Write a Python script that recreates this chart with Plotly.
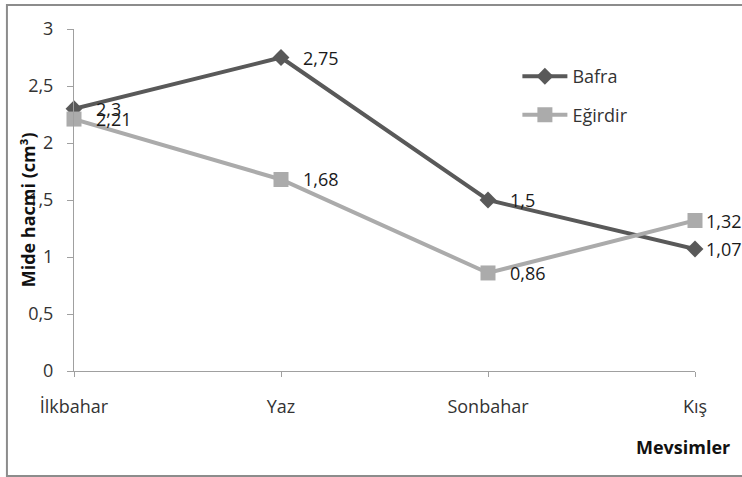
import plotly.graph_objects as go

# Seasons and stomach volume (cm³) per site
seasons = ["İlkbahar", "Yaz", "Sonbahar", "Kış"]
bafra = [2.3, 2.75, 1.5, 1.07]
egirdir = [2.21, 1.68, 0.86, 1.32]
y_ticks = [0, 0.5, 1, 1.5, 2, 2.5, 3]
y_tick_text = ["0", "0,5", "1", "1,5", "2", "2,5", "3"]

FONT = "'Open Sans', Lato, sans-serif"
DARK = "#595959"
LIGHT = "#ababab"


def fmt(v):
    return f"{v:g}".replace(".", ",")


fig = go.Figure()

fig.add_trace(go.Scatter(
    x=seasons, y=bafra, name="Bafra", mode="lines+markers",
    line=dict(color=DARK, width=4),
    marker=dict(symbol="diamond", size=13, color=DARK),
    legendgroup="a", cliponaxis=False,
))
fig.add_trace(go.Scatter(
    x=seasons, y=egirdir, name="Eğirdir", mode="lines+markers",
    line=dict(color=LIGHT, width=4),
    marker=dict(symbol="square", size=15, color=LIGHT),
    legendgroup="b", cliponaxis=False,
))

# value labels to the right of each point (the last column sits closer)
for series in (bafra, egirdir):
    for i, (cat, v) in enumerate(zip(seasons, series)):
        fig.add_annotation(
            x=cat, y=v, text=fmt(v), showarrow=False,
            xanchor="left", yanchor="middle",
            xshift=9 if i == len(seasons) - 1 else 20,
            font=dict(family=FONT, size=18, color="#1a1a1a"),
        )

# chart outer frame
fig.add_shape(type="rect", xref="paper", yref="paper",
              x0=-0.108, x1=1.2, y0=-0.307, y1=1.07,
              line=dict(color="#8c8c8c", width=2), layer="below")

fig.add_annotation(text="<b>Mide hacmi (cm³)</b>", textangle=-90,
                   xref="paper", yref="paper", x=-0.074, y=0.47,
                   xanchor="center", yanchor="middle",
                   showarrow=False, font=dict(family=FONT, size=18, color="#111"))
fig.add_annotation(text="<b>Mevsimler</b>", xref="paper", yref="paper",
                   x=0.981, y=-0.222, xanchor="center", yanchor="middle",
                   showarrow=False, font=dict(family=FONT, size=18, color="#111"))

fig.update_layout(
    width=742, height=477,
    margin=dict(l=74, r=47, t=29, b=106),
    paper_bgcolor="white", plot_bgcolor="white",
    font=dict(family=FONT, size=18, color="#333"),
    legend=dict(x=0.714, y=0.915, xanchor="left", yanchor="top",
                tracegroupgap=12, itemwidth=45, bgcolor="rgba(0,0,0,0)",
                font=dict(family=FONT, size=18, color="#333")),
    xaxis=dict(type="category", range=[0, 3], showgrid=False,
               showline=True, linecolor="#a0a0a0", linewidth=1,
               ticks="outside", ticklen=5, tickcolor="#a0a0a0",
               ticklabelstandoff=14,
               tickfont=dict(family=FONT, size=18, color="#333"), zeroline=False),
    yaxis=dict(range=[0, 3], tickvals=y_ticks, ticktext=y_tick_text,
               showgrid=False, showline=True, linecolor="#a0a0a0", linewidth=1,
               ticks="outside", ticklen=6, tickcolor="#a0a0a0",
               ticklabelstandoff=10,
               tickfont=dict(family=FONT, size=18, color="#333"), zeroline=False),
    showlegend=True,
)

fig.write_html("out.html")
